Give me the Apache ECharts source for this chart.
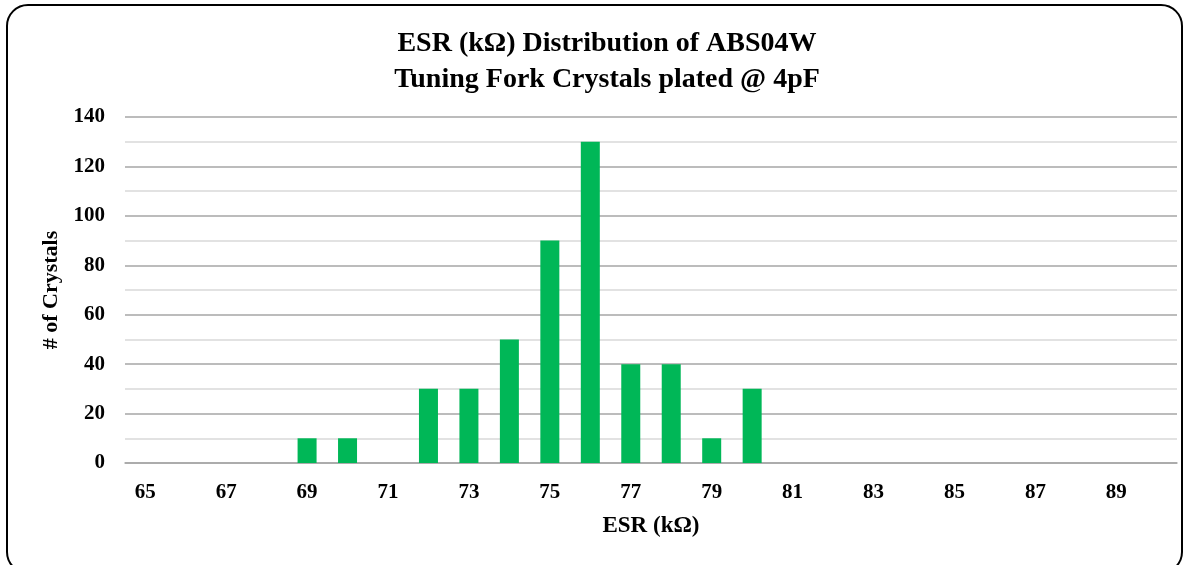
<!DOCTYPE html>
<html>
<head>
<meta charset="utf-8">
<script src="https://cdn.jsdelivr.net/npm/echarts@6/dist/echarts.min.js"></script>
<style>
  html, body { margin: 0; padding: 0; background: #fff; }
  #frame {
    position: absolute; left: 6px; top: 4px; width: 1177px; height: 570px;
    border: 2px solid #000; border-radius: 22px; box-sizing: border-box;
  }
  #chart { position: absolute; left: 0; top: 0; width: 1189px; height: 565px; }
</style>
</head>
<body>
<div id="frame"></div>
<div id="chart"></div>
<script>
// ESR bins (kΩ) and crystal counts
const esrBins = ['65','66','67','68','69','70','71','72','73','74','75','76','77','78','79','80','81','82','83','84','85','86','87','88','89','90'];
const crystalCounts = [0,0,0,0,10,10,0,30,30,50,90,130,40,40,10,30,0,0,0,0,0,0,0,0,0,0];

const serif = "'Liberation Serif', 'Times New Roman', serif";

const chart = echarts.init(document.getElementById('chart'), null, { renderer: 'canvas' });

chart.setOption({
  backgroundColor: 'transparent',
  animation: false,
  title: {
    text: 'ESR (kΩ) Distribution of ABS04W\nTuning Fork Crystals plated @ 4pF',
    left: 602,
    textAlign: 'center',
    top: 21,
    textStyle: {
      fontFamily: serif,
      fontWeight: 'bold',
      fontSize: 28,
      lineHeight: 36,
      color: '#000',
    },
  },
  grid: { left: 125, right: 12, top: 117, bottom: 102 },
  xAxis: {
    type: 'category',
    data: esrBins,
    name: 'ESR (kΩ)',
    nameLocation: 'middle',
    nameGap: 52,
    nameTextStyle: { fontFamily: serif, fontWeight: 'bold', fontSize: 23, color: '#000' },
    axisLine: { lineStyle: { color: '#a6a6a6', width: 1.5 } },
    axisTick: { show: false },
    axisLabel: {
      interval: 1,
      margin: 19,
      fontFamily: serif,
      fontWeight: 'bold',
      fontSize: 21,
      color: '#000',
    },
  },
  yAxis: {
    type: 'value',
    min: 0,
    max: 140,
    interval: 20,
    name: '# of Crystals',
    nameLocation: 'middle',
    nameGap: 61,
    nameTextStyle: { fontFamily: serif, fontWeight: 'bold', fontSize: 22, color: '#000' },
    axisLine: { show: false },
    axisTick: { show: false },
    axisLabel: {
      margin: 20,
      fontFamily: serif,
      fontWeight: 'bold',
      fontSize: 21,
      color: '#000',
    },
    splitLine: { lineStyle: { color: '#a6a6a6', width: 1.5 } },
    minorTick: { show: false, splitNumber: 2 },
    minorSplitLine: { show: true, lineStyle: { color: '#d9d9d9', width: 1.5 } },
  },
  series: [
    {
      type: 'bar',
      data: crystalCounts,
      barWidth: 19,
      itemStyle: { color: '#00b757' },
    },
  ],
});
</script>
</body>
</html>
